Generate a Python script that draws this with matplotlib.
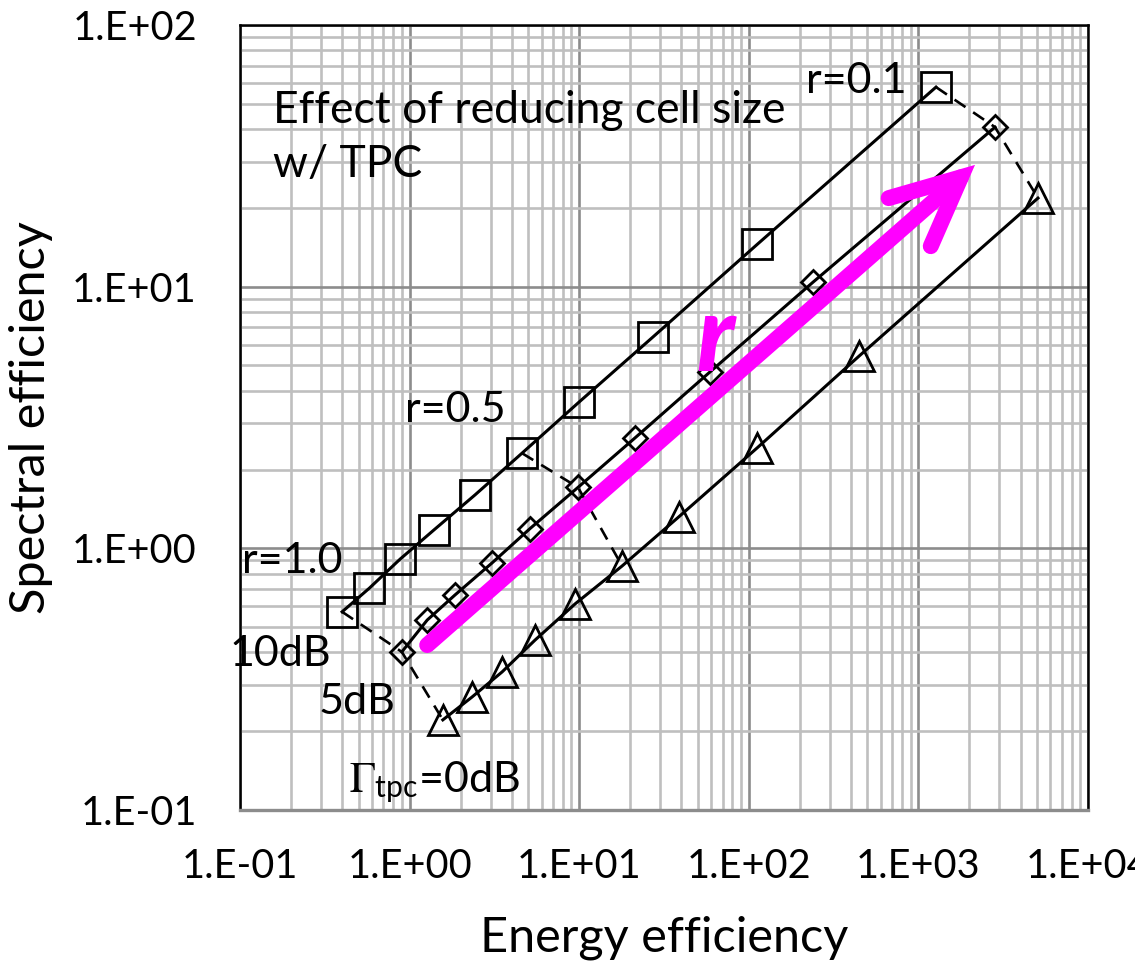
import matplotlib.pyplot as plt
from matplotlib.ticker import LogLocator, FixedLocator

plt.rcParams['font.family'] = ['Lato', 'DejaVu Sans']
plt.rcParams['mathtext.fontset'] = 'stix'

# 10dB (squares), 5dB (diamonds), 0dB (triangles); points for r = 1.0 ... 0.1
sq_x = [0.40, 0.58, 0.88, 1.39, 2.43, 4.60, 9.97, 27.2, 112, 1270]
sq_y = [0.572, 0.705, 0.91, 1.175, 1.60, 2.31, 3.62, 6.42, 14.5, 57.9]
dia_x = [0.90, 1.27, 1.85, 3.06, 5.13, 9.84, 21.3, 59.0, 239, 2830]
dia_y = [0.402, 0.532, 0.663, 0.879, 1.19, 1.71, 2.64, 4.72, 10.4, 40.7]
tri_x = [1.57, 2.33, 3.51, 5.49, 9.45, 17.9, 38.7, 112, 447, 5070]
tri_y = [0.221, 0.270, 0.337, 0.446, 0.613, 0.856, 1.32, 2.42, 5.43, 21.8]

r_labels = ['r=1.0', 'r=0.5', 'r=0.1']
r_index = [0, 5, 9]

arrow_start = (1.27, 0.427)
arrow_end = (2157, 29.2)

x_ticks = [0.1, 1, 10, 100, 1000, 10000]
x_ticklabels = ['1.E-01', '1.E+00', '1.E+01', '1.E+02', '1.E+03', '1.E+04']
y_ticks = [0.1, 1, 10, 100]
y_ticklabels = ['1.E-01', '1.E+00', '1.E+01', '1.E+02']

W, H = 1135, 964
fig = plt.figure(figsize=(11.35, 9.64), dpi=100)
ax = fig.add_axes([240/W, 1-810/H, 848/W, 785/H])
ax.set_xscale('log')
ax.set_yscale('log')
ax.set_xlim(0.1, 10000)
ax.set_ylim(0.1, 100)

# grid
ax.xaxis.set_minor_locator(LogLocator(base=10, subs=range(2, 10)))
ax.yaxis.set_minor_locator(LogLocator(base=10, subs=range(2, 10)))
ax.grid(True, which='minor', color='#bfbfbf', lw=1.9, zorder=0)
ax.grid(True, which='major', color='#8c8c8c', lw=1.9, zorder=0)
ax.set_axisbelow(True)

# dashed lines linking the same r
for i in r_index:
    ax.plot([sq_x[i], dia_x[i], tri_x[i]], [sq_y[i], dia_y[i], tri_y[i]],
            color='black', lw=1.9, dashes=(5, 3.5), zorder=3)

ax.plot(sq_x, sq_y, color='black', lw=2.2, marker='s', ms=21, mfc='none', mew=2, zorder=4)
ax.plot(dia_x, dia_y, color='black', lw=2.2, marker='D', ms=12, mfc='none', mew=2, zorder=4)
ax.plot(tri_x, tri_y, color='black', lw=2.2, marker='^', ms=22, mfc='none', mew=2, zorder=4)

# magenta arrow
ax.annotate('', xy=arrow_end, xytext=arrow_start,
            arrowprops=dict(arrowstyle='->,head_length=49,head_width=23', mutation_scale=1,
                            lw=11.5, color='#ff00ff', capstyle='round', joinstyle='miter',
                            shrinkA=0, shrinkB=0), zorder=5)
ax.text(715, H-340, 'r', transform=None, color='#ff00ff', fontsize=76, fontweight=900,
        fontstyle='italic', ha='center', va='center', zorder=6)

# texts
ax.text(273, H-90, 'Effect of reducing cell size\nw/ TPC', transform=None, fontsize=32,
        ha='left', va='top', linespacing=1.4, zorder=6)
ax.text(806, H-81, r_labels[2], transform=None, fontsize=31, ha='left', va='center', zorder=6)
ax.text(405, H-410, r_labels[1], transform=None, fontsize=31, ha='left', va='center', zorder=6)
ax.text(242, H-561, r_labels[0], transform=None, fontsize=31, ha='left', va='center', zorder=6)
ax.text(229, H-654, '10dB', transform=None, fontsize=31, ha='left', va='center', zorder=6)
ax.text(319, H-702, '5dB', transform=None, fontsize=31, ha='left', va='center', zorder=6)
ax.text(349, H-782, r'$\Gamma_{\mathregular{tpc}}$=0dB', transform=None, fontsize=31,
        ha='left', va='center', zorder=6)

ax.xaxis.set_major_locator(FixedLocator(x_ticks))
ax.yaxis.set_major_locator(FixedLocator(y_ticks))
ax.set_xticklabels(x_ticklabels)
ax.set_yticklabels(y_ticklabels)
ax.tick_params(which='both', length=0, labelsize=28.5)
ax.tick_params(axis='x', pad=27)
ax.tick_params(axis='y', pad=31)

ax.set_xlabel('Energy efficiency', fontsize=35, labelpad=22)
ax.set_ylabel('Spectral efficiency', fontsize=35, labelpad=14)

for s in ['left', 'top', 'right']:
    ax.spines[s].set_color('black')
    ax.spines[s].set_linewidth(1.8)
ax.spines['bottom'].set_color('#8c8c8c')
ax.spines['bottom'].set_linewidth(2.4)

fig.savefig('out.png', dpi=100)
